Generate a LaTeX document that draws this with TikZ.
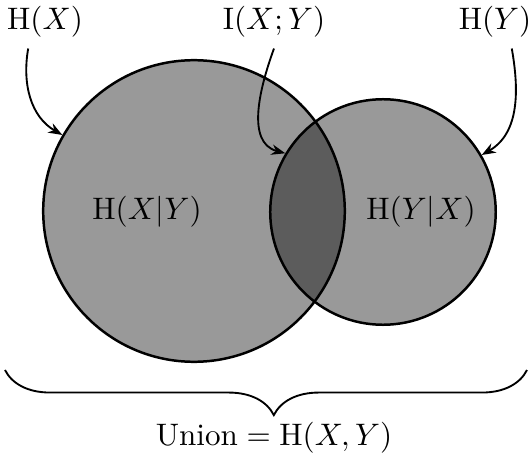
\documentclass[tikz,border=0pt]{standalone}
\usepackage{amsmath}
\usetikzlibrary{arrows.meta,decorations.pathreplacing}

\begin{document}
\begin{tikzpicture}[
  x=0.0113cm, y=0.0113cm,
  set/.style={circle, draw, thick, inner sep=0pt, fill=black, fill opacity=0.4},
  arr/.style={-{Stealth[length=4.5pt]}, semithick},
  brc/.style={decorate, decoration={brace, mirror, amplitude=0.51cm, aspect=0.515}, semithick}
]
  \useasboundingbox (0,0) rectangle (531,455);

  \node[set, minimum size=3.41cm] (A) at (194,244) {};
  \node[set, minimum size=2.55cm] (B) at (383,243) {};

  \node (hxy) at (147,243) {$\mathrm{H}(X|Y)$};
  \node (hyx) at (421,243) {$\mathrm{H}(Y|X)$};

  \node (hx) at (45,433) {$\mathrm{H}(X)$};
  \node (ixy) at (274,433) {$\mathrm{I}(X;Y)$};
  \node (hy) at (495,433) {$\mathrm{H}(Y)$};

  \draw[arr] ([xshift=-0.19cm]hx.south) to[out=-100, in=150] (A.150);
  \draw[arr] (ixy.south) to[out=-110, in=165] (B.149);
  \draw[arr] ([xshift=0.19cm]hy.south) to[out=-80, in=30] (B.30);

  % brace under both sets
  \coordinate (bl) at (5,85);
  \coordinate (br) at (527,85);
  \draw[brc] (bl) -- (br);
  \node (union) at (274,17) {$\text{Union} = \mathrm{H}(X,Y)$};
\end{tikzpicture}
\end{document}
